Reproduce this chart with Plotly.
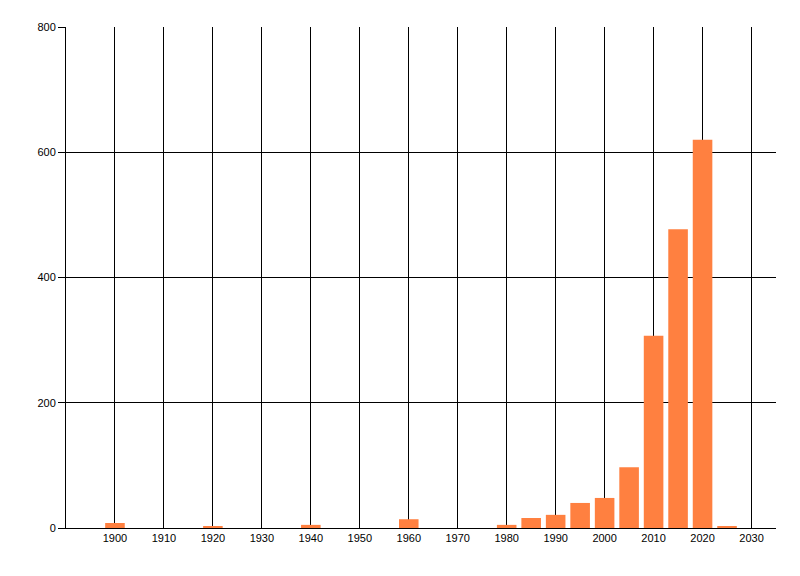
import plotly.graph_objects as go

# ======================
# Données
# ======================
years = [1900, 1920, 1940, 1960, 1980, 1985, 1990, 1995, 2000, 2005, 2010, 2015, 2020, 2025]
counts = [8, 3, 5, 14, 5, 16, 21, 40, 48, 97, 307, 477, 620, 3]

x_ticks = list(range(1900, 2031, 10))
y_ticks = [0, 200, 400, 600, 800]

# ======================
# Figure
# ======================
fig = go.Figure(
    go.Bar(
        x=years,
        y=counts,
        width=4,
        marker=dict(color="#FF8040", line=dict(width=0)),
    )
)

# la page html ajoute ~8px de marge autour de la figure
fig.update_layout(
    width=792,
    height=568,
    margin=dict(l=58, r=24, t=19, b=48),
    paper_bgcolor="white",
    plot_bgcolor="white",
    font=dict(family="Liberation Sans, Arial, sans-serif", size=11, color="black"),
    showlegend=False,
)

fig.update_xaxes(
    range=[1890, 2035],
    tickvals=x_ticks,
    showgrid=True,
    gridcolor="black",
    gridwidth=1,
    showline=True,
    linecolor="black",
    linewidth=1,
    zeroline=False,
    ticks="",
)

fig.update_yaxes(
    range=[0, 800],
    tickvals=y_ticks,
    showgrid=True,
    gridcolor="black",
    gridwidth=1,
    showline=True,
    linecolor="black",
    linewidth=1,
    zeroline=False,
    ticks="outside",
    ticklen=7,
    tickcolor="black",
)

fig.write_html("out.html")
